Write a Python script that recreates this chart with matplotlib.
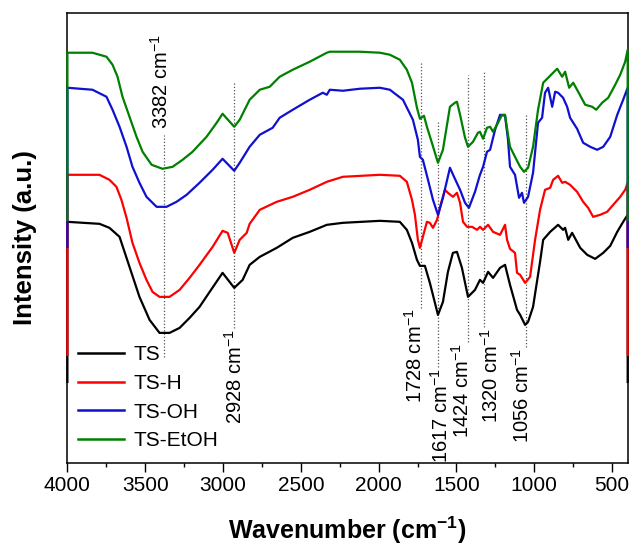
import matplotlib
matplotlib.use('Agg')
import matplotlib.pyplot as plt
from matplotlib.ticker import MultipleLocator

plt.rcParams['font.family'] = ['Liberation Sans', 'DejaVu Sans']
plt.rcParams['mathtext.fontset'] = 'custom'
plt.rcParams['mathtext.rm'] = 'Liberation Sans'
plt.rcParams['mathtext.it'] = 'Liberation Sans:italic'
plt.rcParams['mathtext.bf'] = 'Liberation Sans:bold'

# ---------------- data (wavenumber in cm-1, intensity in a.u.) ----------------
ts_wn = [4000, 3794, 3730, 3665, 3601, 3537, 3472, 3408, 3344, 3279,
         3215, 3151, 3086, 3003, 2928, 2874, 2829, 2764, 2655, 2552,
         2443, 2333, 2230, 1992, 1864, 1819, 1786, 1754, 1735, 1703,
         1671, 1619, 1587, 1555, 1523, 1497, 1465, 1426, 1381, 1349,
         1329, 1297, 1265, 1220, 1188, 1156, 1111, 1091, 1059, 1040,
         1008, 963, 943, 898, 847, 815, 802, 782, 757, 705,
         660, 609, 557, 512, 467, 429, 400]
ts_int = [245, 243, 239, 230, 200, 170, 147, 134, 134, 139,
          149, 160, 175, 194, 179, 187, 202, 210, 219, 229,
          235, 242, 244, 246, 245, 237, 224, 207, 201, 201,
          184, 152, 165, 195, 214, 215, 199, 170, 177, 187,
          184, 195, 189, 199, 202, 182, 157, 152, 142, 145,
          160, 205, 227, 235, 242, 237, 239, 227, 234, 219,
          212, 208, 214, 221, 235, 245, 252]

tsh_wn = [4000, 3794, 3730, 3685, 3653, 3620, 3582, 3537, 3492, 3453,
          3408, 3344, 3279, 3215, 3151, 3067, 3003, 2970, 2928, 2893,
          2848, 2829, 2764, 2655, 2552, 2443, 2333, 2230, 1992, 1864,
          1819, 1786, 1767, 1748, 1735, 1716, 1690, 1671, 1651, 1625,
          1593, 1574, 1555, 1523, 1497, 1477, 1458, 1432, 1400, 1368,
          1349, 1329, 1297, 1265, 1220, 1188, 1175, 1156, 1124, 1111,
          1091, 1059, 1027, 995, 963, 931, 898, 879, 847, 821,
          802, 770, 725, 686, 654, 622, 577, 532, 493, 448,
          416, 400]
tsh_int = [292, 292, 287, 280, 267, 249, 224, 204, 187, 175,
           170, 170, 177, 189, 202, 220, 236, 234, 214, 227,
           234, 243, 257, 265, 270, 277, 285, 290, 292, 291,
           285, 267, 252, 227, 219, 230, 245, 244, 239, 247,
           267, 277, 274, 270, 274, 264, 245, 240, 240, 237,
           240, 237, 242, 235, 232, 242, 227, 218, 214, 194,
           192, 184, 190, 227, 257, 277, 279, 287, 291, 284,
           285, 282, 275, 265, 259, 250, 252, 255, 262, 270,
           277, 284]

tsoh_wn = [4000, 3839, 3749, 3710, 3665, 3620, 3582, 3537, 3492, 3427,
           3363, 3299, 3234, 3151, 3067, 3003, 2928, 2893, 2829, 2764,
           2681, 2636, 2552, 2443, 2359, 2333, 2314, 2230, 2121, 1992,
           1928, 1844, 1780, 1748, 1735, 1716, 1683, 1651, 1619, 1587,
           1542, 1510, 1477, 1445, 1420, 1381, 1349, 1329, 1304, 1284,
           1252, 1220, 1188, 1169, 1156, 1124, 1098, 1079, 1066, 1040,
           1008, 976, 950, 931, 911, 885, 866, 847, 815, 789,
           770, 725, 686, 641, 596, 557, 512, 467, 429, 400]
tsoh_int = [379, 377, 370, 357, 340, 320, 300, 284, 270, 260,
            260, 265, 272, 284, 297, 308, 296, 304, 320, 332,
            339, 349, 357, 367, 374, 372, 377, 376, 378, 379,
            377, 367, 347, 327, 310, 307, 287, 267, 252, 269,
            299, 288, 277, 264, 259, 275, 292, 300, 315, 317,
            337, 352, 351, 327, 300, 292, 269, 274, 264, 270,
            294, 344, 349, 374, 379, 360, 375, 374, 369, 360,
            349, 338, 324, 320, 317, 320, 330, 352, 367, 379]

tset_wn = [4000, 3839, 3749, 3710, 3678, 3646, 3601, 3556, 3517, 3459,
           3389, 3324, 3260, 3196, 3106, 3041, 3003, 2928, 2893, 2829,
           2764, 2700, 2636, 2552, 2443, 2333, 2314, 2121, 1992, 1928,
           1864, 1819, 1786, 1754, 1735, 1709, 1690, 1658, 1619, 1587,
           1542, 1510, 1497, 1477, 1445, 1426, 1394, 1362, 1349, 1329,
           1304, 1284, 1265, 1233, 1207, 1188, 1169, 1156, 1124, 1091,
           1066, 1040, 1008, 976, 943, 911, 879, 853, 821, 802,
           776, 750, 718, 673, 628, 602, 564, 525, 480, 448,
           416, 400]
tset_int = [414, 414, 410, 402, 390, 370, 350, 330, 315, 302,
            298, 300, 307, 315, 330, 344, 353, 340, 347, 367,
            377, 380, 390, 397, 405, 414, 415, 415, 414, 412,
            407, 397, 384, 359, 348, 351, 340, 324, 304, 317,
            360, 364, 365, 352, 329, 320, 325, 334, 335, 328,
            339, 340, 335, 344, 352, 352, 332, 320, 310, 300,
            295, 299, 320, 357, 384, 389, 394, 398, 390, 395,
            379, 384, 375, 362, 360, 357, 364, 369, 382, 392,
            405, 417]

# end-point baseline values of each trace (a.u.)
base_int = [85, 112, 220, 247]

series_names = ['TS', 'TS-H', 'TS-OH', 'TS-EtOH']
series_wn = [ts_wn, tsh_wn, tsoh_wn, tset_wn]
series_int = [ts_int, tsh_int, tsoh_int, tset_int]
colors = ['#000000', '#FF0000', '#1010D0', '#008000']

peak_labels = ['3382', '2928', '1728', '1617', '1424', '1320', '1056']
peak_wn = [3382, 2928, 1728, 1617, 1424, 1320, 1056]
# dotted marker extents (a.u.) and label x positions
peak_low = [110, 139, 159, 100, 125, 140, 120]
peak_high = [332, 384, 405, 347, 392, 395, 352]
label_wn = [3400, 2925, 1767, 1600, 1465, 1278, 1079]

# ---------------- figure ----------------
fig = plt.figure(figsize=(6.3, 5.45), dpi=100)
ax = fig.add_axes([0.107, 0.1505, 0.8898, 0.8262])

for name, wn, inten, base, c in zip(series_names, series_wn, series_int, base_int, colors):
    x = [wn[0]] + list(wn) + [wn[-1]]
    y = [base] + list(inten) + [base]
    ax.plot(x, y, color=c, lw=1.6, label=name, zorder=3, clip_on=False)

for i, (lab, p, lo, hi, lx) in enumerate(zip(peak_labels, peak_wn, peak_low, peak_high, label_wn)):
    ax.plot([p, p], [lo, hi], linestyle=(0, (1, 1.6)), color='#555555', lw=0.9, zorder=1)
    if i == 0:
        ax.text(lx, hi + 6, lab + r' cm$^{-1}$', rotation=90, ha='center', va='bottom', fontsize=14.5)
    else:
        ax.text(lx, lo - 1, lab + r' cm$^{-1}$', rotation=90, ha='center', va='top', fontsize=14.5)

ax.set_xlim(4000, 398)
ax.set_ylim(4, 454)
ax.xaxis.set_major_locator(MultipleLocator(500))
ax.xaxis.set_minor_locator(MultipleLocator(250))
ax.tick_params(axis='x', which='major', direction='out', length=6.5, width=1.0, labelsize=15, pad=3)
ax.tick_params(axis='x', which='minor', direction='out', length=3.2, width=1.0)
ax.set_yticks([])
for s in ax.spines.values():
    s.set_linewidth(1.1)

ax.set_xlabel(r'Wavenumber (cm$^{\mathbf{-1}}$)', fontsize=18, fontweight='bold', labelpad=14)
ax.set_ylabel('Intensity (a.u.)', fontsize=18.5, fontweight='bold', labelpad=22)

leg = ax.legend(loc='upper left', bbox_to_anchor=(0.0187, 0.262), frameon=False,
                fontsize=15, handlelength=2.2, handletextpad=0.45, labelspacing=0.47,
                borderpad=0, borderaxespad=0)
for h in leg.get_lines():
    h.set_linewidth(1.8)

fig.savefig('out.png', dpi=100)
